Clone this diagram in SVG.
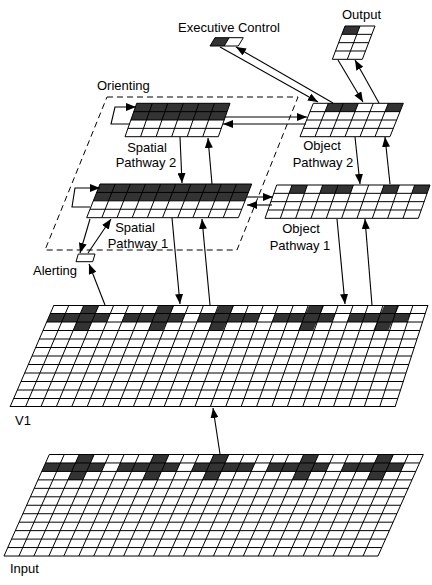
<svg xmlns="http://www.w3.org/2000/svg" width="432" height="585" viewBox="0 0 432 585">
<style>
.bg{fill:#fff}
.dk{fill:#333}
.gl{fill:none;stroke:#000;stroke-width:1;vector-effect:non-scaling-stroke}
.ln{fill:none;stroke:#000;stroke-width:1}
.cn{fill:none;stroke:#000;stroke-width:1.1;marker-end:url(#ah)}
.tx{font-family:"Liberation Sans",Arial,sans-serif;font-size:13px;fill:#000}
.mid{text-anchor:middle}
.dash{fill:none;stroke:#000;stroke-width:1;stroke-dasharray:6 4}
</style>
<defs>
<marker id="ah" viewBox="0 0 10 8" refX="10" refY="4" markerWidth="10" markerHeight="8" markerUnits="userSpaceOnUse" orient="auto"><path d="M0,0L10,4L0,8z" fill="#000"/></marker>
</defs>
<rect width="432" height="585" fill="#fff"/>

<g id="orienting">
<polygon class="dash" points="107,97 298,97 237,250 45,250"/>
<text class="tx" x="97" y="90">Orienting</text>
</g>

<g id="executive-control">
<g transform="matrix(14.15 0 -5 8.3 215 37.7)">
<rect class="bg" width="2" height="1"/><rect class="dk" width="1" height="1"/>
<path class="gl" d="M0,0H2V1H0Z M1,0V1"/>
</g>
<text class="tx" x="178" y="32">Executive Control</text>
</g>

<g id="output">
<g transform="matrix(15 0 -3.17 8.33 345 26)">
<rect class="bg" width="2" height="4"/><rect class="dk" width="1" height="1"/>
<path class="gl" d="M0,0H2V4H0Z M1,0V4 M0,1H2 M0,2H2 M0,3H2"/>
</g>
<text class="tx" x="342" y="19">Output</text>
</g>

<g id="spatial-pathway-2">
<g transform="matrix(15.55 0 -2.92 8.35 136.7 103.3)">
<rect class="bg" width="6" height="4"/><rect class="dk" width="6" height="2"/>
<path class="gl" d="M0,0H6V4H0Z M1,0V4 M2,0V4 M3,0V4 M4,0V4 M5,0V4 M0,1H6 M0,2H6 M0,3H6"/>
</g>
<text class="tx mid" x="147" y="152">Spatial</text>
<text class="tx mid" x="146" y="167">Pathway 2</text>
</g>

<g id="object-pathway-2">
<g transform="matrix(15 0 -3.33 8.35 313.3 103.3)">
<rect class="bg" width="6" height="4"/>
<rect class="dk" x="1" width="2" height="1"/><rect class="dk" x="5" width="1" height="1"/>
<path class="gl" d="M0,0H6V4H0Z M1,0V4 M2,0V4 M3,0V4 M4,0V4 M5,0V4 M0,1H6 M0,2H6 M0,3H6"/>
</g>
<text class="tx mid" x="322" y="150">Object</text>
<text class="tx mid" x="323" y="167">Pathway 2</text>
</g>

<g id="spatial-pathway-1">
<g transform="matrix(15.17 0 -3.33 8.42 100 184)">
<rect class="bg" width="10" height="4"/><rect class="dk" width="10" height="2"/>
<path class="gl" d="M0,0H10V4H0Z M1,0V4 M2,0V4 M3,0V4 M4,0V4 M5,0V4 M6,0V4 M7,0V4 M8,0V4 M9,0V4 M0,1H10 M0,2H10 M0,3H10"/>
</g>
<text class="tx mid" x="135" y="232">Spatial</text>
<text class="tx mid" x="138" y="248">Pathway 1</text>
</g>

<g id="object-pathway-1">
<g transform="matrix(15.33 0 -2.92 8.33 276.7 185)">
<rect class="bg" width="10" height="4"/>
<rect class="dk" x="1" width="1" height="1"/><rect class="dk" x="3" width="2" height="1"/><rect class="dk" x="7" width="1" height="1"/><rect class="dk" x="9" width="1" height="1"/>
<path class="gl" d="M0,0H10V4H0Z M1,0V4 M2,0V4 M3,0V4 M4,0V4 M5,0V4 M6,0V4 M7,0V4 M8,0V4 M9,0V4 M0,1H10 M0,2H10 M0,3H10"/>
</g>
<text class="tx mid" x="301" y="233">Object</text>
<text class="tx mid" x="300" y="250">Pathway 1</text>
</g>

<g id="alerting">
<g transform="matrix(16.7 0 -2.3 7.7 78.3 254)">
<rect class="bg" width="1" height="1"/>
<path class="gl" d="M0,0H1V1H0Z"/>
</g>
<text class="tx" x="33" y="275">Alerting</text>
</g>

<g id="v1">
<polygon class="bg" points="54,305 428,305 395,407 10,407"/>
<g transform="matrix(15.015 0 -3.667 8.5 54 305)">
<rect class="dk" x="2" y="0" width="1" height="1"/><rect class="dk" x="7" y="0" width="1" height="1"/><rect class="dk" x="11" y="0" width="1" height="1"/><rect class="dk" x="17" y="0" width="1" height="1"/><rect class="dk" x="22" y="0" width="1" height="1"/>
<rect class="dk" x="0" y="1" width="4" height="1"/><rect class="dk" x="5" y="1" width="4" height="1"/><rect class="dk" x="10" y="1" width="4" height="1"/><rect class="dk" x="15" y="1" width="4" height="1"/><rect class="dk" x="20" y="1" width="4" height="1"/>
<rect class="dk" x="2" y="2" width="1" height="1"/><rect class="dk" x="7" y="2" width="1" height="1"/><rect class="dk" x="11" y="2" width="1" height="1"/><rect class="dk" x="17" y="2" width="1" height="1"/><rect class="dk" x="22" y="2" width="1" height="1"/>
</g>
<path class="ln" d="M54,305L10,407 M68.96,305L25.4,407 M83.92,305L40.8,407 M98.88,305L56.2,407 M113.84,305L71.6,407 M128.8,305L87,407 M143.76,305L102.4,407 M158.72,305L117.8,407 M173.68,305L133.2,407 M188.64,305L148.6,407 M203.6,305L164,407 M218.56,305L179.4,407 M233.52,305L194.8,407 M248.48,305L210.2,407 M263.44,305L225.6,407 M278.4,305L241,407 M293.36,305L256.4,407 M308.32,305L271.8,407 M323.28,305L287.2,407 M338.24,305L302.6,407 M353.2,305L318,407 M368.16,305L333.4,407 M383.12,305L348.8,407 M398.08,305L364.2,407 M413.04,305L379.6,407 M428,305L395,407
M54,305.5H428 M50.33,313.5H425.25 M46.67,322H422.5 M43,330.5H419.75 M39.33,339H417 M35.67,347.5H414.25 M32,356H411.5 M28.33,364.5H408.75 M24.67,373H406 M21,381.5H403.25 M17.33,390H400.5 M13.67,398.5H397.75 M10,406.5H395"/>
<text class="tx" x="15" y="425">V1</text>
</g>

<g id="input">
<g transform="matrix(14.96 0 -3.775 8.46 49.3 454.5)">
<rect class="bg" width="25" height="12"/>
<rect class="dk" x="2" y="0" width="1" height="1"/><rect class="dk" x="7" y="0" width="1" height="1"/><rect class="dk" x="11" y="0" width="1" height="1"/><rect class="dk" x="17" y="0" width="1" height="1"/><rect class="dk" x="22" y="0" width="1" height="1"/>
<rect class="dk" x="0" y="1" width="4" height="1"/><rect class="dk" x="5" y="1" width="4" height="1"/><rect class="dk" x="10" y="1" width="4" height="1"/><rect class="dk" x="15" y="1" width="4" height="1"/><rect class="dk" x="20" y="1" width="4" height="1"/>
<rect class="dk" x="2" y="2" width="1" height="1"/><rect class="dk" x="7" y="2" width="1" height="1"/><rect class="dk" x="11" y="2" width="1" height="1"/><rect class="dk" x="17" y="2" width="1" height="1"/><rect class="dk" x="22" y="2" width="1" height="1"/>
<path class="gl" d="M0,0H25V12H0Z M1,0V12 M2,0V12 M3,0V12 M4,0V12 M5,0V12 M6,0V12 M7,0V12 M8,0V12 M9,0V12 M10,0V12 M11,0V12 M12,0V12 M13,0V12 M14,0V12 M15,0V12 M16,0V12 M17,0V12 M18,0V12 M19,0V12 M20,0V12 M21,0V12 M22,0V12 M23,0V12 M24,0V12 M0,1H25 M0,2H25 M0,3H25 M0,4H25 M0,5H25 M0,6H25 M0,7H25 M0,8H25 M0,9H25 M0,10H25 M0,11H25"/>
</g>
<text class="tx" x="10" y="573">Input</text>
</g>

<g id="connectors">
<path class="cn" d="M220,47L318,102"/>
<path class="cn" d="M333,103L236,47"/>
<path class="cn" d="M338,60L363,102"/>
<path class="cn" d="M379,103L355,60"/>
<path class="cn" d="M225,117H307"/>
<path class="cn" d="M306,124H223"/>
<path class="cn" d="M130,124H111L115,107H136"/>
<path class="cn" d="M180,137L182,183"/>
<path class="cn" d="M212,184L208,138"/>
<path class="cn" d="M355,137L360,184"/>
<path class="cn" d="M390,184L385,137"/>
<path class="cn" d="M90,207H72L75,188H100"/>
<path class="cn" d="M247,197H273"/>
<path class="cn" d="M272,205H247"/>
<path class="cn" d="M90,219L80,253"/>
<path class="cn" d="M88,253L111,219"/>
<path class="cn" d="M105,305L89,264"/>
<path class="cn" d="M172,218L180,304"/>
<path class="cn" d="M210,305L202,219"/>
<path class="cn" d="M337,219L345,304"/>
<path class="cn" d="M372,305L365,219"/>
<path class="cn" d="M220,454L213,408"/>
</g>
</svg>
